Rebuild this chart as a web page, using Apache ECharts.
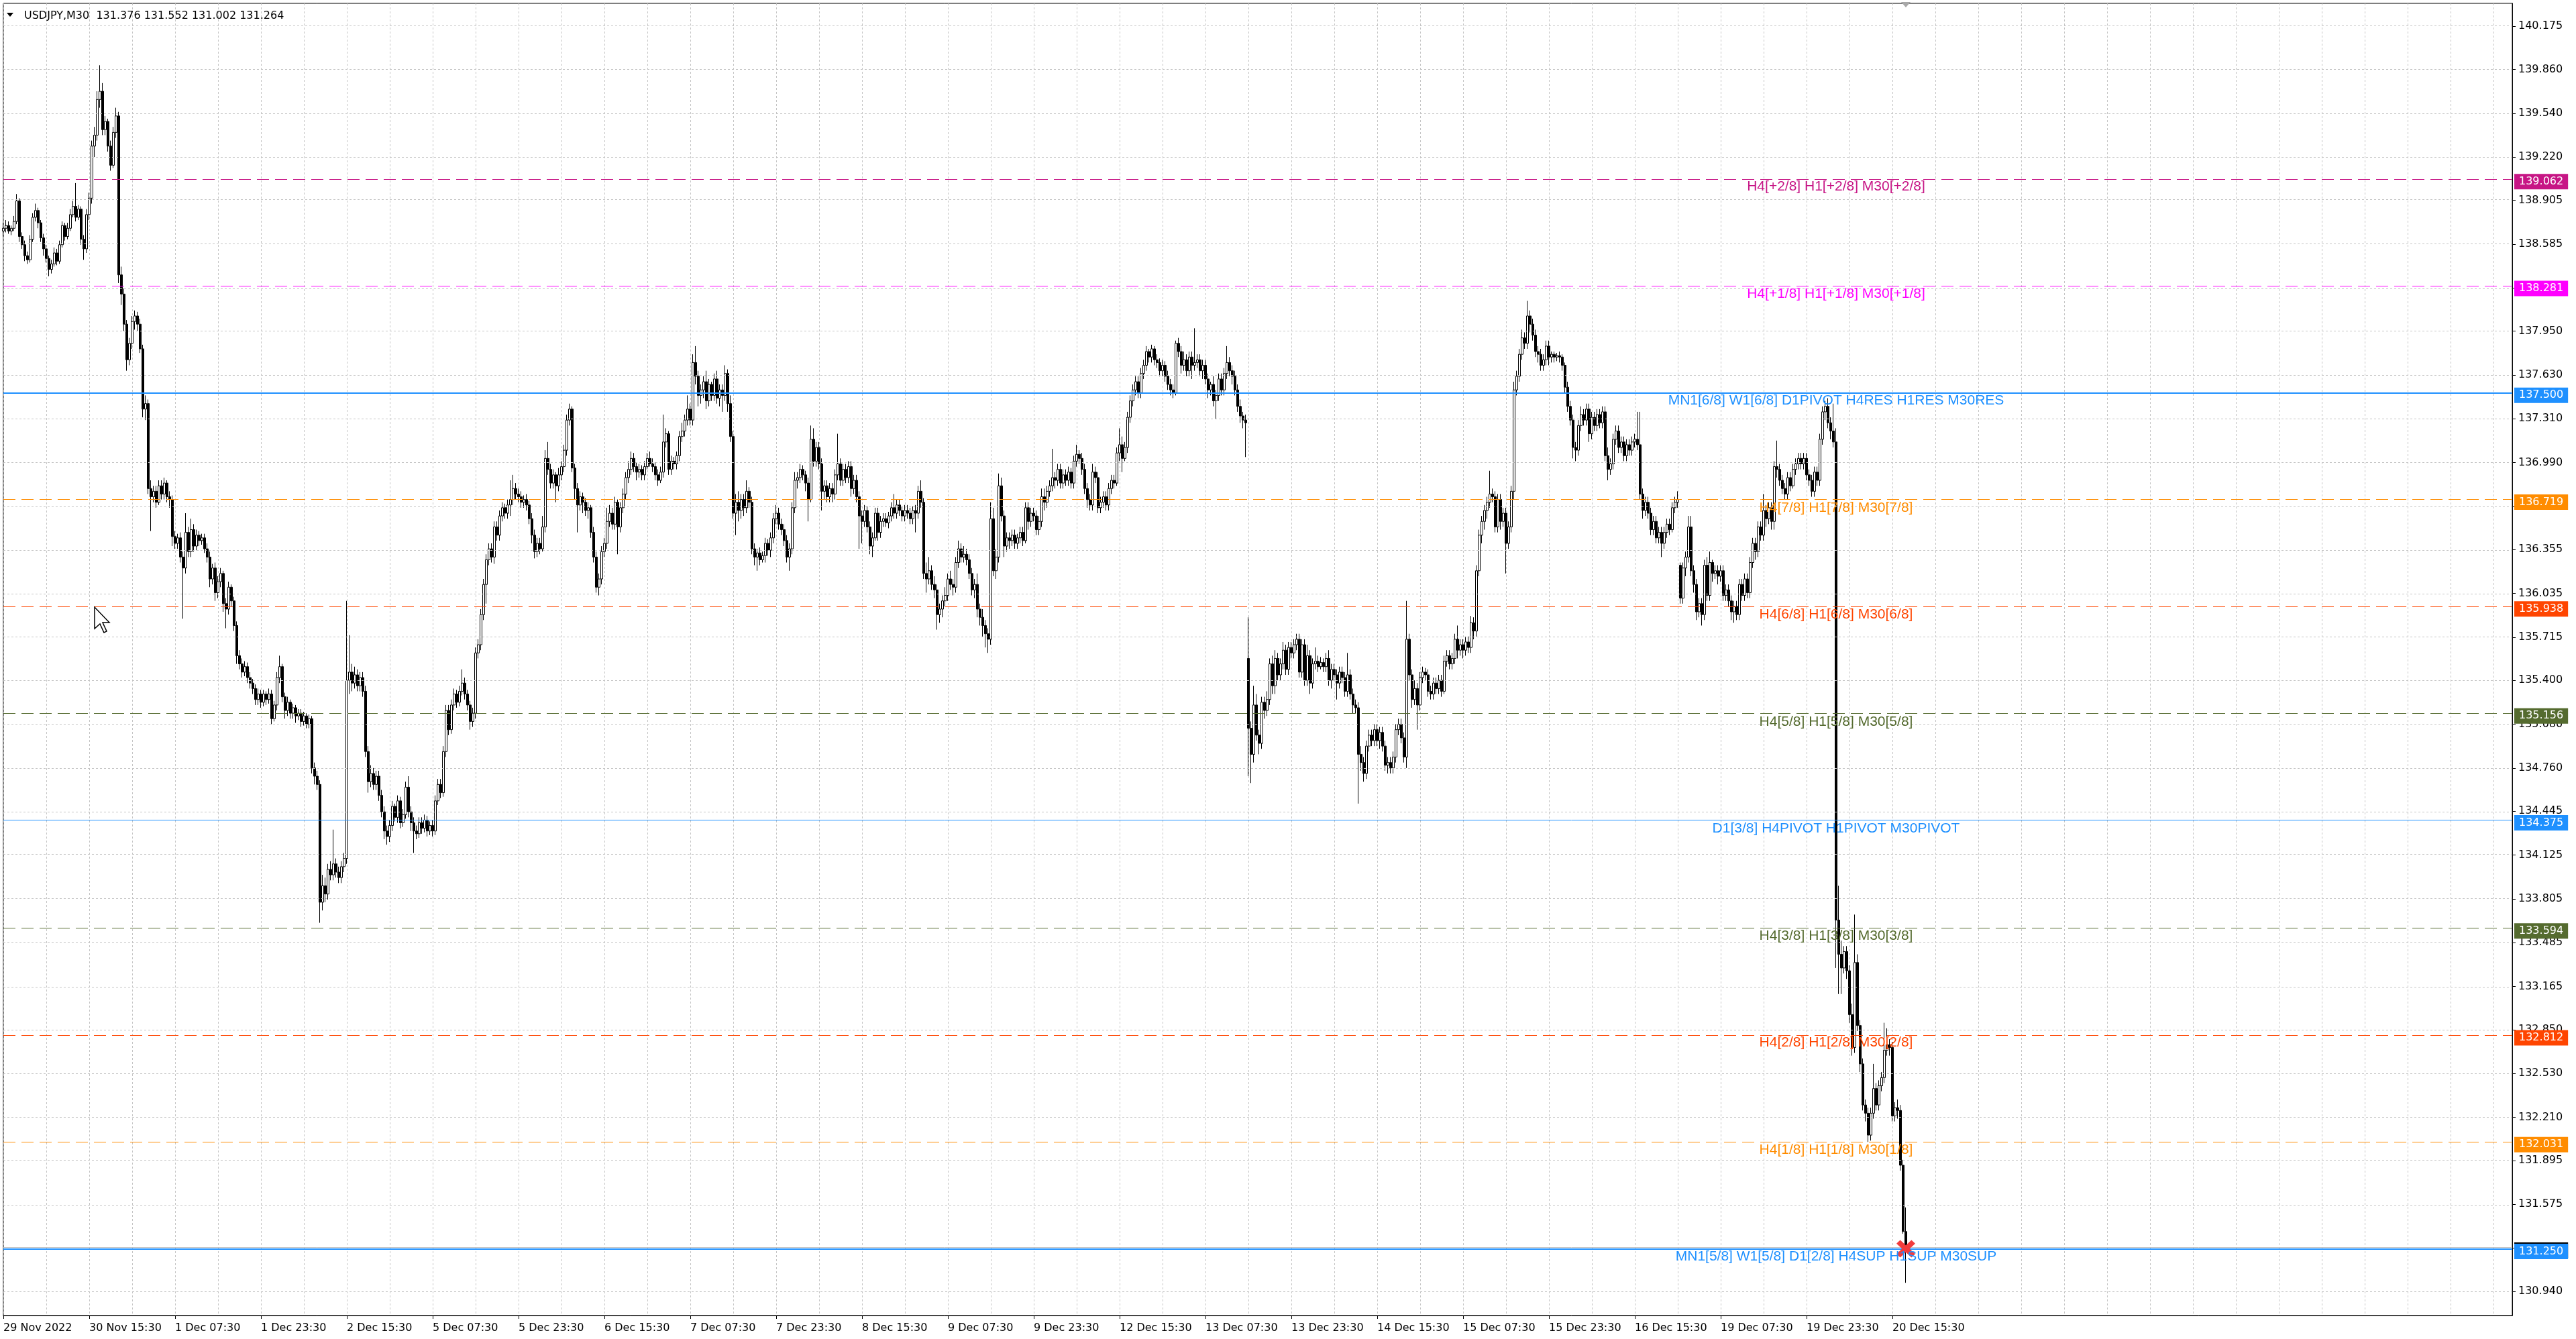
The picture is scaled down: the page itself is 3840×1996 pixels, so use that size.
<!DOCTYPE html>
<html>
<head>
<meta charset="utf-8">
<script src="https://cdn.jsdelivr.net/npm/echarts@6/dist/echarts.min.js"></script>
<style>
html, body { margin: 0; padding: 0; background: #ffffff; }
#chart { width: 3840px; height: 1996px; }
</style>
</head>
<body>
<div id="chart"></div>
<script>
// USDJPY M30 candles (open = previous close unless listed in gapOpens)
var firstOpen = 138.68;
var gapOpens = { 464: 135.56, 625: 136.24 };

var closes = [
138.70,138.72,138.68,138.70,138.75,138.90,138.64,138.58,138.50,138.47,138.62,138.78,138.83,138.74,138.63,138.55,
138.48,138.40,138.44,138.52,138.46,138.58,138.72,138.64,138.70,138.80,138.86,138.78,138.84,138.62,138.55,138.80,
138.92,139.30,139.38,139.64,139.70,139.42,139.48,139.30,139.16,139.40,139.52,138.36,138.22,138.00,137.74,137.86,
138.02,138.06,138.00,137.82,137.38,137.42,136.80,136.74,136.78,136.70,136.82,136.76,136.84,136.74,136.72,136.45,
136.40,136.44,136.30,136.22,136.48,136.34,136.50,136.38,136.46,136.42,136.44,136.36,136.30,136.14,136.22,136.04,
136.12,136.18,135.96,135.92,136.08,135.98,135.80,135.58,135.52,135.46,135.50,135.42,135.38,135.34,135.26,135.30,
135.24,135.30,135.26,135.30,135.12,135.22,135.42,135.50,135.28,135.18,135.24,135.16,135.20,135.14,135.16,135.10,
135.14,135.08,135.12,134.76,134.70,134.64,133.78,133.90,133.84,134.02,133.98,134.06,134.00,133.96,134.04,134.10,
135.40,135.46,135.38,135.44,135.36,135.42,135.32,134.88,134.66,134.72,134.64,134.70,134.56,134.44,134.30,134.26,
134.34,134.48,134.40,134.52,134.36,134.42,134.62,134.44,134.36,134.30,134.28,134.36,134.32,134.38,134.30,134.34,
134.30,134.52,134.64,134.58,134.88,135.18,135.04,135.22,135.30,135.24,135.32,135.38,135.30,135.22,135.10,135.16,
135.60,135.66,135.88,136.10,136.28,136.36,136.30,136.52,136.46,136.60,136.66,136.62,136.68,136.72,136.80,136.76,
136.74,136.70,136.72,136.68,136.58,136.46,136.34,136.40,136.36,136.52,137.02,136.94,136.84,136.90,136.82,136.90,
136.96,137.08,137.30,137.38,136.95,136.80,136.68,136.74,136.70,136.64,136.66,136.48,136.30,136.08,136.14,136.34,
136.40,136.56,136.62,136.54,136.70,136.52,136.66,136.76,136.88,136.94,137.02,136.96,136.92,136.94,136.90,136.96,
137.02,136.98,136.96,136.90,136.86,136.92,137.14,137.20,136.94,137.00,136.98,137.04,137.18,137.22,137.30,137.38,
137.30,137.72,137.62,137.48,137.52,137.58,137.44,137.56,137.48,137.60,137.46,137.52,137.48,137.64,137.42,137.18,
136.62,136.70,136.64,136.72,136.66,136.78,136.70,136.36,136.30,136.33,136.28,136.31,136.40,136.35,136.44,136.58,
136.62,136.54,136.50,136.42,136.30,136.36,136.66,136.86,136.88,136.94,136.90,136.84,136.72,137.16,137.00,137.10,
136.98,136.78,136.82,136.74,136.80,136.76,136.90,136.98,136.86,136.94,136.88,136.96,136.80,136.86,136.74,136.60,
136.56,136.64,136.52,136.38,136.44,136.62,136.48,136.56,136.58,136.55,136.60,136.66,136.62,136.68,136.64,136.60,
136.64,136.62,136.58,136.64,136.62,136.78,136.70,136.18,136.14,136.20,136.10,136.06,135.88,135.92,135.98,136.02,
136.14,136.10,136.08,136.26,136.36,136.30,136.32,136.28,136.18,136.06,136.10,135.92,135.86,135.80,135.74,135.70,
136.58,136.20,136.30,136.82,136.60,136.38,136.44,136.42,136.46,136.40,136.44,136.48,136.42,136.66,136.56,136.62,
136.60,136.50,136.56,136.74,136.70,136.78,136.82,136.88,136.86,136.94,136.84,136.90,136.86,136.92,136.84,137.00,
137.05,137.02,136.94,136.80,136.72,136.68,136.92,136.88,136.66,136.70,136.74,136.68,136.80,136.86,136.84,137.06,
137.12,137.02,137.10,137.32,137.44,137.52,137.58,137.50,137.64,137.70,137.80,137.76,137.82,137.74,137.72,137.66,
137.70,137.62,137.56,137.52,137.50,137.86,137.80,137.70,137.74,137.66,137.76,137.70,137.72,137.74,137.66,137.70,
137.60,137.52,137.56,137.44,137.48,137.60,137.52,137.64,137.72,137.66,137.62,137.52,137.40,137.33,137.30,137.28,
135.05,134.86,135.22,135.00,134.94,135.24,135.18,135.26,135.52,135.36,135.56,135.44,135.52,135.62,135.48,135.64,
135.60,135.66,135.70,135.46,135.66,135.40,135.58,135.38,135.52,135.54,135.50,135.53,135.50,135.56,135.40,135.48,
135.44,135.38,135.46,135.42,135.32,135.44,135.30,135.22,135.20,134.86,134.80,134.72,134.92,135.00,134.96,135.04,
134.96,135.02,134.92,134.78,134.80,134.76,134.84,135.04,135.08,134.98,134.84,135.70,135.44,135.26,135.34,135.22,
135.42,135.46,135.44,135.32,135.30,135.38,135.34,135.40,135.32,135.54,135.58,135.52,135.56,135.70,135.62,135.66,
135.62,135.68,135.64,135.82,135.76,136.20,136.46,136.56,136.64,136.70,136.76,136.74,136.52,136.72,136.56,136.62,
136.40,136.52,136.78,137.52,137.62,137.78,137.90,137.86,138.06,138.00,137.92,137.80,137.78,137.70,137.74,137.84,
137.76,137.78,137.76,137.77,137.76,137.70,137.54,137.40,137.30,137.10,137.08,137.26,137.34,137.30,137.38,137.20,
137.32,137.26,137.34,137.28,137.36,137.04,136.94,136.98,137.16,137.22,137.10,137.14,137.04,137.12,137.08,137.14,
137.16,137.12,136.76,136.64,136.70,136.62,136.50,136.56,136.44,136.48,136.40,136.48,136.54,136.50,136.66,136.70,
136.72,136.00,136.22,136.30,136.52,136.20,136.10,135.90,135.96,135.88,136.24,136.02,136.26,136.18,136.20,136.16,
136.20,136.02,136.06,135.98,135.90,135.94,135.88,136.10,136.02,136.14,136.04,136.26,136.40,136.34,136.52,136.46,
136.64,136.58,136.66,136.56,136.96,136.94,136.86,136.80,136.76,136.88,136.82,136.94,136.98,137.02,136.98,137.02,
136.90,136.86,136.78,136.92,136.86,137.16,137.36,137.40,137.28,137.22,137.14,133.65,133.40,133.30,133.42,133.28,
132.96,132.72,133.34,132.88,132.60,132.30,132.24,132.08,132.24,132.42,132.30,132.44,132.50,132.70,132.74,132.72,
132.22,132.28,132.26,131.86,131.376,131.264
];

var highs = [
138.74,138.76,138.75,138.72,138.79,138.95,138.92,138.67,138.61,138.53,138.65,138.81,138.88,138.85,138.76,138.66,
138.58,138.50,138.47,138.56,138.55,138.61,138.75,138.74,138.74,138.84,138.90,139.03,138.87,138.86,138.65,138.84,
138.96,139.34,139.44,139.70,139.89,139.76,139.52,139.50,139.34,139.44,139.58,139.55,138.42,138.26,138.03,137.90,
138.06,138.10,138.09,138.04,137.85,137.48,137.45,136.86,136.82,136.82,136.86,136.86,136.88,136.86,136.78,136.75,
136.49,136.47,136.48,136.34,136.62,136.52,136.58,136.54,136.50,136.49,136.47,136.47,136.40,136.34,136.25,136.26,
136.16,136.22,136.20,136.00,136.12,136.10,136.01,135.83,135.62,135.56,135.54,135.53,135.46,135.41,135.37,135.34,
135.33,135.33,135.32,135.34,135.33,135.25,135.46,135.58,135.52,135.31,135.28,135.26,135.23,135.22,135.19,135.19,
135.17,135.16,135.15,135.14,134.80,134.74,134.67,133.98,133.96,134.06,134.08,134.31,134.10,134.04,134.08,134.14,
135.98,135.73,135.52,135.50,135.48,135.46,135.46,135.36,134.92,134.78,134.76,134.74,134.74,134.60,134.48,134.34,
134.38,134.52,134.50,134.56,134.55,134.46,134.66,134.70,134.48,134.40,134.34,134.40,134.40,134.42,134.41,134.37,
134.38,134.56,134.68,134.68,134.92,135.22,135.22,135.26,135.34,135.33,135.36,135.48,135.42,135.33,135.25,135.20,
135.64,135.70,135.92,136.14,136.32,136.40,136.40,136.56,136.56,136.64,136.70,136.69,136.72,136.86,136.90,136.84,
136.80,136.78,136.75,136.76,136.71,136.62,136.50,136.44,136.44,136.60,137.08,137.14,136.98,136.94,136.92,136.95,
137.00,137.12,137.34,137.42,137.40,136.98,136.84,136.78,136.77,136.73,136.70,136.68,136.52,136.34,136.18,136.38,
136.44,136.66,136.68,136.66,136.74,136.72,136.70,136.80,136.92,137.00,137.07,137.06,136.99,136.98,136.97,137.00,
137.06,137.07,137.02,136.99,136.94,136.96,137.34,137.24,137.22,137.04,137.03,137.07,137.22,137.28,137.34,137.48,
137.42,137.78,137.84,137.66,137.56,137.62,137.66,137.60,137.58,137.64,137.66,137.56,137.56,137.70,137.67,137.48,
137.22,136.76,136.78,136.76,136.76,136.86,136.81,136.74,136.40,136.36,136.37,136.34,136.44,136.43,136.48,136.62,
136.68,136.66,136.58,136.54,136.46,136.40,136.70,136.92,136.92,136.98,136.97,136.93,136.88,137.26,137.24,137.14,
137.14,137.02,136.86,136.86,136.84,136.84,136.94,137.20,137.02,136.98,136.98,137.00,137.00,136.90,136.90,136.78,
136.64,136.68,136.67,136.56,136.48,136.66,136.66,136.60,136.62,136.62,136.63,136.70,136.76,136.72,136.72,136.67,
136.68,136.68,136.66,136.67,136.68,136.82,136.86,136.73,136.26,136.30,136.24,136.16,136.10,135.96,136.02,136.08,
136.18,136.20,136.14,136.30,136.42,136.40,136.38,136.36,136.32,136.22,136.14,136.18,135.96,135.92,135.84,135.78,
136.70,136.66,136.36,136.91,136.88,136.64,136.48,136.48,136.50,136.50,136.47,136.52,136.52,136.70,136.70,136.66,
136.66,136.64,136.60,136.80,136.80,136.82,136.86,137.09,136.92,136.98,136.98,136.94,136.94,136.96,136.95,137.04,
137.12,137.08,137.06,136.98,136.84,136.76,136.98,136.96,136.92,136.74,136.78,136.78,136.84,136.90,136.90,137.10,
137.24,137.18,137.14,137.36,137.48,137.56,137.62,137.62,137.68,137.74,137.84,137.82,137.85,137.84,137.78,137.75,
137.74,137.73,137.66,137.60,137.56,137.88,137.90,137.84,137.80,137.78,137.80,137.80,137.97,137.78,137.78,137.74,
137.74,137.64,137.58,137.62,137.52,137.64,137.64,137.68,137.84,137.76,137.70,137.66,137.56,137.45,137.36,137.34,
135.86,135.10,135.36,135.30,135.04,135.28,135.28,135.32,135.56,135.58,135.62,135.60,135.56,135.68,135.66,135.68,
135.68,135.70,135.74,135.74,135.70,135.70,135.66,135.62,135.56,135.64,135.58,135.57,135.56,135.60,135.62,135.52,
135.52,135.48,135.50,135.50,135.46,135.60,135.48,135.34,135.26,135.24,134.92,134.84,134.96,135.04,135.04,135.08,
135.08,135.06,135.06,134.96,134.84,134.84,134.88,135.08,135.12,135.12,135.02,135.98,135.74,135.48,135.40,135.38,
135.46,135.50,135.49,135.48,135.36,135.42,135.42,135.44,135.44,135.58,135.62,135.62,135.60,135.74,135.80,135.70,
135.70,135.72,135.72,135.87,135.86,136.24,136.50,136.60,136.68,136.74,136.93,136.80,136.78,136.76,136.76,136.66,
136.66,136.56,136.82,137.58,137.66,137.82,137.96,137.94,138.17,138.10,138.04,137.96,137.84,137.82,137.78,137.88,
137.88,137.80,137.80,137.79,137.80,137.78,137.72,137.58,137.44,137.34,137.14,137.30,137.40,137.38,137.42,137.42,
137.36,137.36,137.38,137.38,137.40,137.40,137.10,137.02,137.20,137.26,137.26,137.18,137.18,137.16,137.16,137.18,
137.20,137.36,137.36,136.80,136.74,136.74,136.66,136.60,136.60,136.52,136.52,136.52,136.58,136.58,136.70,136.74,
136.78,136.26,136.26,136.34,136.60,136.60,136.24,136.14,136.00,136.00,136.28,136.30,136.34,136.28,136.24,136.24,
136.24,136.24,136.10,136.10,136.02,135.98,135.98,136.14,136.14,136.18,136.18,136.30,136.44,136.44,136.56,136.56,
136.76,136.68,136.70,136.70,137.00,137.15,136.98,136.90,136.84,136.92,136.92,136.98,137.02,137.06,137.06,137.06,
137.06,136.94,136.90,136.96,136.96,137.20,137.40,137.44,137.46,137.32,137.42,137.24,133.90,133.50,133.46,133.46,
133.32,133.04,133.69,133.40,132.92,132.64,132.34,132.28,132.28,132.60,132.46,132.48,132.54,132.90,132.86,132.78,
132.76,132.32,132.34,132.30,131.90,131.552
];

var lows = [
138.64,138.67,138.66,138.65,138.68,138.73,138.60,138.55,138.46,138.44,138.45,138.60,138.75,138.70,138.60,138.50,
138.45,138.35,138.37,138.42,138.43,138.44,138.56,138.61,138.62,138.68,138.78,138.75,138.76,138.58,138.47,138.52,
138.76,138.88,139.22,139.34,139.58,139.38,139.38,139.26,139.12,139.14,139.36,138.30,138.14,137.95,137.66,137.70,
137.82,137.96,137.95,137.79,137.32,137.30,136.76,136.49,136.70,136.66,136.68,136.72,136.72,136.70,136.66,136.38,
136.36,136.36,136.26,135.85,136.18,136.30,136.30,136.34,136.35,136.38,136.39,136.33,136.26,136.08,136.10,135.98,
136.00,136.08,135.90,135.78,135.88,135.94,135.76,135.52,135.48,135.42,135.43,135.38,135.34,135.30,135.22,135.22,
135.20,135.21,135.22,135.23,135.08,135.10,135.18,135.38,135.24,135.12,135.14,135.12,135.12,135.09,135.11,135.06,
135.07,135.05,135.05,134.72,134.64,134.60,133.63,133.72,133.78,133.80,133.94,133.94,133.96,133.92,133.92,134.00,
134.06,135.30,135.32,135.34,135.32,135.32,135.28,134.84,134.58,134.62,134.60,134.60,134.52,134.40,134.24,134.20,
134.22,134.30,134.37,134.36,134.32,134.33,134.39,134.40,134.30,134.14,134.24,134.25,134.28,134.29,134.26,134.27,
134.26,134.27,134.49,134.54,134.55,134.84,135.00,135.01,135.18,135.20,135.21,135.29,135.26,135.18,135.04,135.06,
135.12,135.56,135.62,135.84,135.96,136.24,136.26,136.25,136.42,136.42,136.56,136.58,136.58,136.60,136.68,136.72,
136.70,136.66,136.66,136.64,136.54,136.40,136.29,136.30,136.32,136.34,136.48,136.90,136.80,136.80,136.70,136.78,
136.86,136.92,137.04,137.26,136.92,136.72,136.48,136.64,136.62,136.60,136.58,136.44,136.26,136.04,136.02,136.10,
136.30,136.36,136.52,136.50,136.50,136.32,136.48,136.62,136.72,136.84,136.90,136.92,136.86,136.88,136.86,136.86,
136.94,136.96,136.92,136.86,136.82,136.84,136.88,137.10,136.90,136.90,136.94,136.94,137.00,137.14,137.18,137.26,
137.26,137.26,137.56,137.40,137.42,137.46,137.38,137.40,137.44,137.44,137.42,137.40,137.36,137.44,137.36,137.14,
136.58,136.46,136.56,136.58,136.60,136.62,136.66,136.32,136.24,136.20,136.24,136.26,136.26,136.31,136.30,136.40,
136.54,136.50,136.46,136.38,136.26,136.20,136.32,136.62,136.80,136.84,136.86,136.78,136.56,136.70,136.96,136.96,
136.94,136.64,136.72,136.70,136.70,136.70,136.72,136.86,136.82,136.82,136.84,136.84,136.74,136.76,136.70,136.36,
136.40,136.52,136.48,136.32,136.30,136.42,136.42,136.44,136.52,136.52,136.51,136.56,136.58,136.58,136.60,136.56,
136.56,136.58,136.54,136.54,136.48,136.58,136.66,136.14,136.04,136.10,136.06,136.00,135.77,135.82,135.86,135.94,
135.98,136.06,136.02,136.04,136.22,136.26,136.26,136.24,136.14,136.02,136.00,135.86,135.80,135.72,135.64,135.60,
135.66,136.16,136.14,136.26,136.56,136.30,136.34,136.36,136.38,136.36,136.36,136.40,136.38,136.40,136.50,136.52,
136.56,136.46,136.46,136.52,136.64,136.66,136.74,136.78,136.80,136.82,136.80,136.80,136.82,136.82,136.80,136.80,
136.96,136.98,136.90,136.76,136.66,136.64,136.64,136.84,136.62,136.62,136.66,136.64,136.64,136.76,136.80,136.82,
137.00,136.92,137.00,137.06,137.28,137.40,137.48,137.46,137.46,137.60,137.66,137.72,137.72,137.70,137.68,137.62,
137.62,137.58,137.52,137.48,137.46,137.48,137.76,137.64,137.66,137.62,137.62,137.60,137.66,137.68,137.62,137.60,
137.56,137.46,137.48,137.40,137.31,137.44,137.48,137.48,137.60,137.62,137.56,137.48,137.36,137.28,137.24,137.03,
134.70,134.65,134.80,134.96,134.86,134.90,135.12,135.14,135.22,135.30,135.30,135.40,135.40,135.48,135.44,135.44,
135.56,135.56,135.62,135.42,135.42,135.36,135.36,135.30,135.34,135.48,135.46,135.48,135.46,135.46,135.36,135.34,
135.40,135.26,135.34,135.38,135.28,135.28,135.26,135.16,135.16,134.50,134.74,134.66,134.68,134.88,134.92,134.92,
134.92,134.90,134.88,134.74,134.72,134.72,134.72,134.80,135.00,134.94,134.80,134.76,135.40,135.20,135.22,135.04,
135.18,135.38,135.40,135.28,135.26,135.26,135.30,135.30,135.28,135.30,135.50,135.48,135.48,135.52,135.56,135.58,
135.56,135.58,135.60,135.60,135.70,135.72,136.16,136.40,136.50,136.58,136.66,136.70,136.48,136.48,136.50,136.52,
136.18,136.36,136.48,136.72,137.48,137.58,137.74,137.82,137.82,137.94,137.88,137.76,137.72,137.66,137.66,137.70,
137.70,137.72,137.72,137.73,137.72,137.66,137.50,137.36,137.26,137.02,137.00,137.04,137.22,137.26,137.26,137.14,
137.16,137.22,137.22,137.24,137.24,137.00,136.86,136.90,136.94,137.12,137.06,137.06,137.00,137.00,137.04,137.04,
137.10,137.08,136.72,136.58,136.60,136.58,136.46,136.46,136.40,136.40,136.30,136.36,136.44,136.46,136.48,136.62,
136.66,135.96,135.96,136.16,136.26,136.16,136.04,135.84,135.86,135.80,135.84,135.98,135.98,136.12,136.14,136.10,
136.12,135.98,135.98,135.94,135.84,135.82,135.84,135.84,135.98,135.98,136.00,136.00,136.22,136.28,136.30,136.42,
136.42,136.52,136.54,136.50,136.50,136.88,136.82,136.76,136.72,136.72,136.78,136.80,136.90,136.94,136.94,136.94,
136.86,136.82,136.74,136.74,136.82,136.82,137.12,137.30,137.24,137.16,137.10,133.30,133.11,133.11,133.26,133.22,
132.90,132.66,132.68,132.84,132.54,132.26,132.18,132.03,132.04,132.20,132.26,132.26,132.40,132.46,132.66,132.66,
132.18,132.18,132.20,131.82,131.36,131.002
];

// time axis: one slot per M30 bar, labels every 32 bars
var slotCount = 936;
var timeLabels = ['29 Nov 2022','30 Nov 15:30','1 Dec 07:30','1 Dec 23:30','2 Dec 15:30','5 Dec 07:30',
  '5 Dec 23:30','6 Dec 15:30','7 Dec 07:30','7 Dec 23:30','8 Dec 15:30','9 Dec 07:30','9 Dec 23:30',
  '12 Dec 15:30','13 Dec 07:30','13 Dec 23:30','14 Dec 15:30','15 Dec 07:30','15 Dec 23:30',
  '16 Dec 15:30','19 Dec 07:30','19 Dec 23:30','20 Dec 15:30'];

// price axis
var yMin = 130.763, yMax = 140.342;
var yTicks = [130.940,131.255,131.575,131.895,132.210,132.530,132.850,133.165,133.485,133.805,
  134.125,134.445,134.760,135.080,135.400,135.715,136.035,136.355,136.670,136.990,137.310,
  137.630,137.950,138.265,138.585,138.905,139.220,139.540,139.860,140.175];

// murrey / pivot levels
var levelPrices = [139.062,138.281,137.500,136.719,135.938,135.156,134.375,133.594,132.812,132.031,131.250];
var levelColors = ['#C71585','#FF00FF','#1E90FF','#FF8C00','#FF4500','#556B2F','#1E90FF','#556B2F','#FF4500','#FF8C00','#1E90FF'];
var levelSolid  = [false,false,true,false,false,false,true,false,false,false,true];
var levelWidths = [1,1,2,1,1,1,1,1,1,1,2];
var levelTexts = [
  'H4[+2/8] H1[+2/8] M30[+2/8]',
  'H4[+1/8] H1[+1/8] M30[+1/8]',
  'MN1[6/8] W1[6/8] D1PIVOT H4RES H1RES M30RES',
  'H4[7/8] H1[7/8] M30[7/8]',
  'H4[6/8] H1[6/8] M30[6/8]',
  'H4[5/8] H1[5/8] M30[5/8]',
  'D1[3/8] H4PIVOT H1PIVOT M30PIVOT',
  'H4[3/8] H1[3/8] M30[3/8]',
  'H4[2/8] H1[2/8] M30[2/8]',
  'H4[1/8] H1[1/8] M30[1/8]',
  'MN1[5/8] W1[5/8] D1[2/8] H4SUP H1SUP M30SUP'
];
var textBar = 683;
var bidPrice = 131.264;
var lastBar = 709;
var header = 'USDJPY,M30  131.376 131.552 131.002 131.264';

var slots = [];
for (var s = 0; s < slotCount; s++) slots.push(s);

var n = Math.min(closes.length, highs.length, lows.length);
var candles = [];
for (var i = 0; i < n; i++) {
  var o = i === 0 ? firstOpen : (gapOpens[i] !== undefined ? gapOpens[i] : closes[i - 1]);
  candles.push([o, closes[i], lows[i], highs[i]]);
}

var gridLines = yTicks.map(function (v) {
  return { yAxis: v, lineStyle: { color: '#c4c4c4', type: [3, 3], width: 1 }, label: { show: false } };
});

var boxLabel = function (txt, bg) {
  return {
    show: true, position: 'end', distance: 3, offset: [0, 4], formatter: txt,
    color: '#ffffff', backgroundColor: bg, padding: [3, 7, 3, 7],
    fontSize: 16, lineHeight: 17, fontFamily: 'DejaVu Sans'
  };
};

var levelLines = [{
  yAxis: bidPrice,
  lineStyle: { color: '#c0c0c0', type: 'solid', width: 1 },
  label: boxLabel(bidPrice.toFixed(3), '#000000')
}];
levelPrices.forEach(function (p, k) {
  levelLines.push({
    yAxis: p,
    lineStyle: { color: levelColors[k], type: levelSolid[k] ? 'solid' : [18, 9], width: levelWidths[k] },
    label: boxLabel(p.toFixed(3), levelColors[k])
  });
});

var levelNotes = levelPrices.map(function (p, k) {
  return {
    coord: [textBar, p],
    label: {
      show: true, position: 'inside', offset: [0, 12], formatter: levelTexts[k],
      color: levelColors[k], fontSize: 21, fontFamily: 'Liberation Sans'
    }
  };
});

var showTime = function (idx) { return idx % 32 === 0 && idx / 32 < timeLabels.length; };

var chart = echarts.init(document.getElementById('chart'));
var option = {
  animation: false,
  backgroundColor: '#ffffff',
  title: {
    text: header, left: 31, top: 11,
    textStyle: { fontSize: 16, fontWeight: 'normal', color: '#000000', fontFamily: 'DejaVu Sans' }
  },
  grid: { left: 5, right: 95, top: 5, bottom: 35, show: true, borderColor: '#000000', borderWidth: 1 },
  xAxis: {
    type: 'category',
    data: slots,
    boundaryGap: false,
    axisLine: { show: true, lineStyle: { color: '#000000', width: 1 } },
    axisTick: { show: true, interval: function (idx) { return showTime(idx); }, length: 5, lineStyle: { color: '#000000' } },
    axisLabel: {
      interval: function (idx) { return showTime(idx); },
      formatter: function (v, idx) { return timeLabels[idx / 32] || ''; },
      align: 'left', margin: 11, color: '#000000', fontSize: 16, fontFamily: 'DejaVu Sans'
    },
    splitLine: {
      show: true,
      interval: function (idx) { return idx % 16 === 0; },
      lineStyle: { color: '#c4c4c4', type: [3, 3], width: 1 }
    }
  },
  yAxis: {
    type: 'value',
    position: 'right',
    min: yMin,
    max: yMax,
    axisLine: { show: true, lineStyle: { color: '#000000', width: 1 } },
    axisTick: { show: true, customValues: yTicks, length: 5, lineStyle: { color: '#000000' } },
    axisLabel: {
      customValues: yTicks,
      formatter: function (v) { return v.toFixed(3); },
      margin: 9, color: '#000000', fontSize: 16, fontFamily: 'DejaVu Sans'
    },
    splitLine: { show: false }
  },
  graphic: [
    { type: 'polygon', shape: { points: [[10, 19], [20, 19], [15, 25]] }, style: { fill: '#000000' } },
    // mouse pointer left on the chart
    { type: 'polygon', x: 141, y: 905, z: 100,
      shape: { points: [[0, 0], [0, 32], [8, 25], [14, 38], [18, 36], [12, 23], [22, 23]] },
      style: { fill: '#ffffff', stroke: '#000000', lineWidth: 1.5 } }
  ],
  series: [
    {
      name: 'grid', type: 'line', data: [], z: 1, silent: true,
      markLine: { silent: true, symbol: ['none', 'none'], data: gridLines, animation: false }
    },
    {
      name: 'levels', type: 'line', data: [], z: 2, silent: true,
      markLine: { silent: true, symbol: ['none', 'none'], data: levelLines, animation: false },
      markPoint: {
        silent: true, symbol: 'rect', symbolSize: 1,
        itemStyle: { color: 'rgba(0,0,0,0)' },
        data: levelNotes, animation: false
      }
    },
    {
      name: 'USDJPY', type: 'candlestick', data: candles, z: 3,
      large: false, barWidth: 3, clip: true,
      itemStyle: { color: '#ffffff', color0: '#000000', borderColor: '#000000', borderColor0: '#000000', borderWidth: 1 },
      markPoint: {
        silent: true, animation: false,
        data: [
          {
            coord: [lastBar, 131.25], symbol: 'path://M2,0 L5,3 L8,0 L10,2 L7,5 L10,8 L8,10 L5,7 L2,10 L0,8 L3,5 L0,2 Z',
            symbolSize: [28, 26], itemStyle: { color: '#f23c3c' }, label: { show: false }
          },
          {
            coord: [lastBar, yMax], symbol: 'triangle', symbolRotate: 180, symbolSize: [14, 8], symbolOffset: [0, 2],
            itemStyle: { color: '#a8a8a8' }, label: { show: false }
          }
        ]
      }
    }
  ]
};
chart.setOption(option);
window.addEventListener('resize', function () { chart.resize(); });
</script>
</body>
</html>
